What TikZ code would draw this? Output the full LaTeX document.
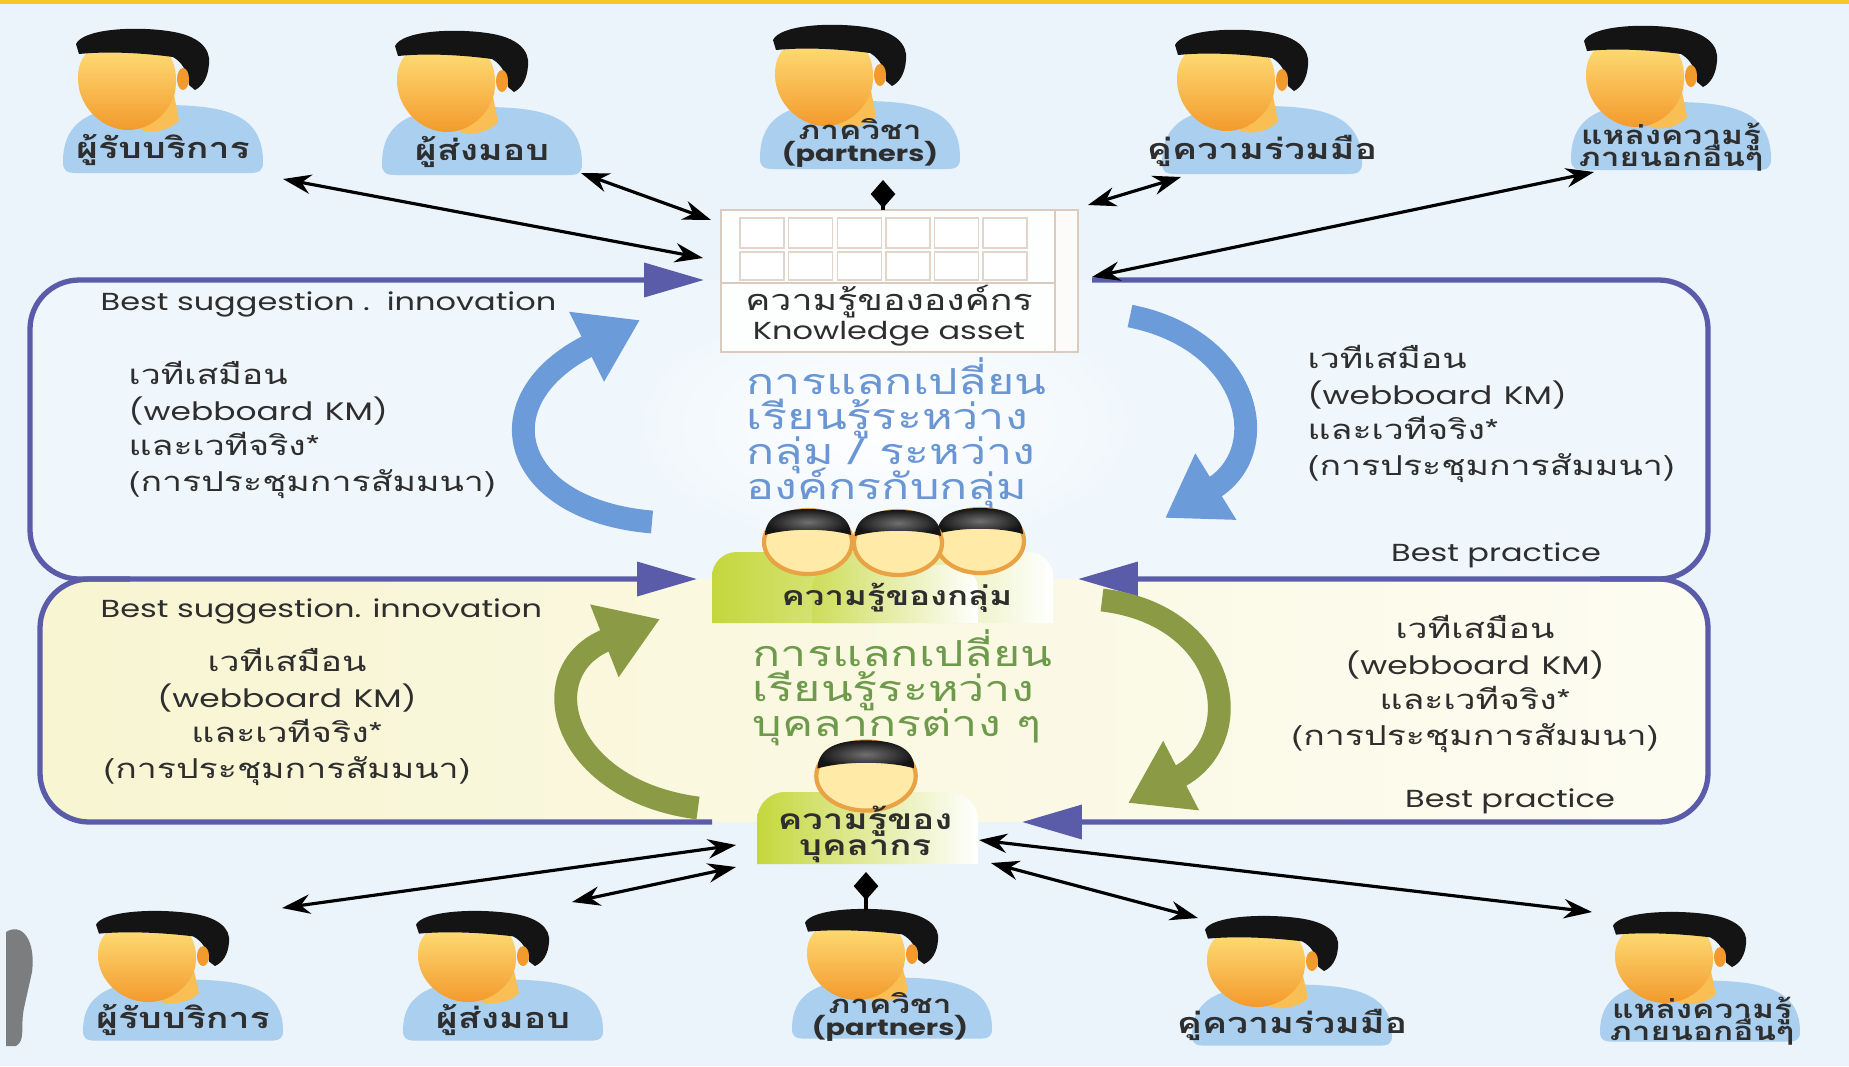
\documentclass[tikz,border=0pt]{standalone}
\usepackage{fontspec}
\setmainfont{Poppins}[FakeStretch=1.3]
\newfontfamily\thai[Script=Thai,FakeStretch=1.3]{Loma}
\usetikzlibrary{arrows.meta}

\definecolor{bgsky}{HTML}{EBF4FA}
\definecolor{panelsky}{HTML}{F0F7FC}
\definecolor{panelcream}{HTML}{F8F5D2}
\definecolor{frameblue}{HTML}{5A5CA9}
\definecolor{arcblue}{HTML}{6C9BD9}
\definecolor{txtblue}{HTML}{6A96D4}
\definecolor{arcgreen}{HTML}{8B9A45}
\definecolor{txtgreen}{HTML}{6E9A4C}
\definecolor{shirtblue}{HTML}{AACFEF}
\definecolor{hairblack}{HTML}{141414}
\definecolor{hairgloss}{HTML}{707070}
\definecolor{skinlight}{HTML}{FFE47E}
\definecolor{skindark}{HTML}{F39A2C}
\definecolor{facecream}{HTML}{FFEAA8}
\definecolor{faceline}{HTML}{E9A244}
\definecolor{ink}{HTML}{2E2E2E}
\definecolor{limegreen}{HTML}{C4D73C}
\definecolor{topgold}{HTML}{F5C826}
\definecolor{wallline}{HTML}{D9CBBE}

\newcommand\tightlines{\lineskiplimit=-20pt\relax}
\newcommand\thaibody{\thai\fontsize{7.8}{10.2}\selectfont}
\newcommand\latinbody{\rmfamily\fontsize{7}{10.2}\selectfont}
\newcommand\webboard{{\latinbody\fontsize{7.2}{10.2}\selectfont (webboard\hspace{0.45em}KM)}}
\newcommand\tagfont{\thai\bfseries\fontsize{8.2}{8}\selectfont\tightlines}
\newcommand\tagtwofont{\thai\bfseries\fontsize{7.3}{6.1}\selectfont\tightlines}
\newcommand\tagfontlatin{\rmfamily\bfseries\fontsize{6.3}{6.1}\selectfont}
\newcommand\indfont{\thai\bfseries\fontsize{8}{7.4}\selectfont\tightlines}
\newcommand\grpfont{\thai\bfseries\fontsize{7.6}{9}\selectfont}
\newcommand\kbfont{\thai\fontsize{8.2}{10}\selectfont}
\newcommand\bigthai{\thai\fontsize{10.2}{9.9}\selectfont\tightlines}

\tikzset{
  % person icon, origin at the centre of its caption
  pics/personicon/.style={code={
    \fill[shirtblue] (-100,12) .. controls (-100,-36) and (-62,-45) .. (0,-45)
       .. controls (62,-45) and (100,-36) .. (100,12)
       .. controls (100,21) and (96,23) .. (86,23) -- (-86,23)
       .. controls (-96,23) and (-100,21) .. (-100,12) -- cycle;
    \fill[skinlight!50!skindark] (-22,-50) -- (10,-60) -- (16,-30)
       .. controls (8,-20) and (-10,-16) .. (-22,-20) -- cycle;
    \shade[top color=skinlight,bottom color=skindark]
       (-30,-112) .. controls (-70,-112) and (-86,-95) .. (-85,-70)
       .. controls (-84,-42) and (-60,-20) .. (-35,-20)
       .. controls (-12,-20) and (7,-38) .. (12,-58)
       .. controls (16,-80) and (10,-112) .. (-30,-112) -- cycle;
    \fill[hairblack] (-84,-96) -- (-87,-106) .. controls (-80,-121) and (-30,-124) .. (5,-119)
       .. controls (35,-115) and (48,-102) .. (46,-86) .. controls (45,-73) and (40,-64) .. (32,-60)
       -- (26,-65) .. controls (25,-78) and (19,-88) .. (10,-93)
       .. controls (-20,-97) and (-55,-99) .. (-84,-96) -- cycle;
    \fill[skindark] (20,-71) ellipse[x radius=6,y radius=11];
  }},
  % cartoon head used in the group and individual figures
  pics/roundhead/.style={code={
    \draw[draw=faceline,line width=1.2pt,fill=facecream] (0,0) ellipse[x radius=44,y radius=32];
    \shade[inner color=hairgloss,outer color=hairblack]
       (-43,-7) .. controls (-42,-27) and (-24,-33) .. (0,-33)
       .. controls (24,-33) and (42,-27) .. (43,-7)
       .. controls (20,-14) and (-20,-14) .. (-43,-7) -- cycle;
  }},
}

\begin{document}
\begin{tikzpicture}[x=0.01cm,y=-0.01cm,
  frameline/.style={draw=frameblue,line width=1.5pt,rounded corners=14pt},
  bluetip/.style={-{Triangle[length=17pt,width=9.5pt]}},
  bluetips/.style={{Triangle[length=17pt,width=9.5pt]}-{Triangle[length=17pt,width=9.5pt]}},
  link/.style={draw=black,line width=0.9pt,{Stealth[length=8pt,width=5.5pt]}-{Stealth[length=8pt,width=5.5pt]}},
  agg/.style={draw=black,line width=0.9pt,{Diamond[length=8pt,width=7pt]}-},
  cycleblue/.style={draw=arcblue,line width=6.5pt,-{Triangle[length=17pt,width=21pt]}},
  cyclegreen/.style={draw=arcgreen,line width=6.5pt,-{Triangle[length=17pt,width=21pt]}},
  tag/.style={text=ink,font=\tagfont,align=center,inner sep=0pt},
  tagtwo/.style={text=ink,font=\tagtwofont,align=center,inner sep=0pt},
  note/.style={text=ink,font=\thaibody,inner sep=0pt},
  latin/.style={text=ink,font=\latinbody,inner sep=0pt},
]
\useasboundingbox (0,0) rectangle (1849,1066);
\fill[bgsky] (0,0) rectangle (1849,1066);
\fill[topgold] (0,0) rectangle (1849,4);

% partly visible grey object at the lower left edge
\fill[gray!75!black,opacity=0.8] (6,932) .. controls (22,922) and (36,940) .. (32,972)
  -- (24,1008) .. controls (20,1028) and (26,1040) .. (16,1046) -- (6,1046) -- cycle;

% panels
\fill[panelsky,rounded corners=14pt] (30,280) rectangle (1708,579);
\shade[left color=panelcream,right color=white!70!panelcream,rounded corners=14pt]
  (40,579) rectangle (1708,822);
\shade[inner color=white,outer color=panelsky] (885,425) ellipse[x radius=250,y radius=125];

% building: organisational knowledge
\fill[white,opacity=0.92] (721,210) rectangle (1055,352);
\fill[white!92!wallline] (1055,210) rectangle (1078,352);
\foreach \i in {0,...,5} {
  \draw[wallline!80,line width=0.4pt,fill=white] (740+\i*48.6,218) rectangle +(44,30);
  \draw[wallline!80,line width=0.4pt,fill=white] (740+\i*48.6,252) rectangle +(44,28);
}
\draw[wallline,line width=0.6pt] (721,210) rectangle (1078,352);
\draw[wallline,line width=0.5pt] (1055,210) -- (1055,352);
\draw[wallline,line width=0.5pt] (721,283) -- (1055,283);
\node[inner sep=0pt,minimum width=3.57cm,minimum height=1.42cm] (kb) at (899.5,281) {};
\node[text=ink,font=\kbfont,inner sep=0pt] (kbth) at (889,302) {ความรู้ขององค์กร};
\node[latin] (kben) at (889,334) {Knowledge asset};

% ports on the central nodes
\coordinate (kb-p1) at (703,258);
\coordinate (kb-p2) at (711,220);
\coordinate (kb-p3) at (883,210);
\coordinate (kb-p4) at (1088,205);
\coordinate (kb-p5) at (1092,277);
\coordinate (kb-w) at (704,280);
\coordinate (kb-e) at (1092,280);
\coordinate (grp-w) at (697,579);
\coordinate (grp-e) at (1078,579);
\coordinate (ind-w) at (712,822);
\coordinate (ind-e) at (1022,822);
\coordinate (ind-p1) at (736,845);
\coordinate (ind-p2) at (736,867);
\coordinate (ind-p3) at (866,872);
\coordinate (ind-p4) at (991,863);
\coordinate (ind-p5) at (979,840);

% panel frames with their arrows
\draw[frameline,bluetips] (kb-w) -- (30,280) -- (30,579) -- (grp-w);
\draw[frameline,bluetip] (kb-e) -- (1708,280) -- (1708,579) -- (grp-e);
\draw[frameline] (130,579) -- (40,579) -- (40,822) -- (ind-w);
\draw[frameline,bluetip] (1600,579) -- (1708,579) -- (1708,822) -- (ind-e);

% exchange cycles
\draw[cycleblue] (652,522) .. controls (510,510) and (480,400) .. (640,320);
\draw[cycleblue] (1130,316) .. controls (1250,340) and (1275,450) .. (1165,518);
\draw[cyclegreen] (698,808) .. controls (560,790) and (530,670) .. (660,619);
\draw[cyclegreen] (1102,600) .. controls (1230,615) and (1250,740) .. (1128,803);

% group knowledge figure
\shade[left color=limegreen,right color=limegreen!55!white]
  (712,623) [rounded corners=7pt] -- (712,552) -- (880,552) [sharp corners] -- (880,623) -- cycle;
\shade[left color=limegreen!45!white,right color=white]
  (925,623) [rounded corners=7pt] -- (925,552) -- (1053,552) [sharp corners] -- (1053,623) -- cycle;
\shade[left color=limegreen!85!white,right color=white]
  (812,623) [rounded corners=7pt] -- (812,565) -- (978,565) [sharp corners] -- (978,623) -- cycle;
\pic at (980,541) {roundhead};
\pic at (808,542) {roundhead};
\pic at (898,543) {roundhead};
\node[text=ink,font=\grpfont,inner sep=0pt] (grp) at (897,598) {ความรู้ของกลุ่ม};

% individual knowledge figure
\shade[left color=limegreen,right color=white]
  (757,864) [rounded corners=8pt] -- (757,792) -- (978,792) [sharp corners] -- (978,864) -- cycle;
\pic[xscale=1.13,yscale=1.08] at (866,776) {roundhead};
\node[text=ink,font=\indfont,align=center,inner sep=0pt] (ind) at (865,834) {ความรู้ของ\\บุคลากร};

% central captions
\node[text=txtblue,font=\bigthai,align=left,inner sep=0pt,anchor=west] (orgx) at (746,433)
  {การแลกเปลี่ยน\\เรียนรู้ระหว่าง\\กลุ่ม / ระหว่าง\\องค์กรกับกลุ่ม};
\node[text=txtgreen,font=\bigthai,align=left,inner sep=0pt,anchor=west] (grpx) at (752,688)
  {การแลกเปลี่ยน\\เรียนรู้ระหว่าง\\บุคลากรต่าง ๆ};

% panel notes
\node[latin,anchor=west] (bs1) at (100,304) {Best suggestion .~~innovation};
\node[note,align=left,anchor=west] (ul) at (128,430)
  {เวทีเสมือน\\\webboard\\และเวทีจริง*\\(การประชุมการสัมมนา)};
\node[note,align=left,anchor=west] (ur) at (1307,414)
  {เวทีเสมือน\\\webboard\\และเวทีจริง*\\(การประชุมการสัมมนา)};
\node[latin] (bp1) at (1496,555) {Best practice};
\node[latin,anchor=west] (bs2) at (100,611) {Best suggestion. innovation};
\node[note,align=center] (ll) at (287,717)
  {เวทีเสมือน\\\webboard\\และเวทีจริง*\\(การประชุมการสัมมนา)};
\node[note,align=center] (lr) at (1475,684)
  {เวทีเสมือน\\\webboard\\และเวทีจริง*\\(การประชุมการสัมมนา)};
\node[latin] (bp2) at (1510,801) {Best practice};

% stakeholders, top row
\pic at (163,150) {personicon};
\pic at (482,152) {personicon};
\pic at (860,146) {personicon};
\pic at (1262,151) {personicon};
\pic at (1671,147) {personicon};
\node[tag] (p1t) at (163,150) {ผู้รับบริการ};
\node[tag] (p2t) at (482,152) {ผู้ส่งมอบ};
\node[tagtwo] (p3t) at (860,143) {ภาควิชา\\{\tagfontlatin (partners)}};
\node[tag] (p4t) at (1262,151) {คู่ความร่วมมือ};
\node[tagtwo] (p5t) at (1671,147) {แหล่งความรู้\\ภายนอกอื่นๆ};

% stakeholders, bottom row
\pic[yscale=0.9] at (183,1020) {personicon};
\pic[yscale=0.9] at (503,1020) {personicon};
\pic[yscale=0.9] at (892,1018) {personicon};
\pic[yscale=0.9] at (1292,1025) {personicon};
\pic[yscale=0.9] at (1700,1021) {personicon};
\node[tag] (p1b) at (183,1020) {ผู้รับบริการ};
\node[tag] (p2b) at (503,1020) {ผู้ส่งมอบ};
\node[tagtwo] (p3b) at (890,1017) {ภาควิชา\\{\tagfontlatin (partners)}};
\node[tag] (p4b) at (1292,1025) {คู่ความร่วมมือ};
\node[tagtwo] (p5b) at (1702,1021) {แหล่งความรู้\\ภายนอกอื่นๆ};

% ports on the stakeholders
\coordinate (p1t-kb) at (283,179);
\coordinate (p2t-kb) at (581,173);
\coordinate (p3t-kb) at (883,180);
\coordinate (p4t-kb) at (1181,177);
\coordinate (p5t-kb) at (1594,172);
\coordinate (p1b-ind) at (282,908);
\coordinate (p2b-ind) at (572,902);
\coordinate (p3b-ind) at (866,910);
\coordinate (p4b-ind) at (1198,918);
\coordinate (p5b-ind) at (1592,912);

% connectors
\draw[link] (p1t-kb) -- (kb-p1);
\draw[link] (p2t-kb) -- (kb-p2);
\draw[agg] (p3t-kb) -- (kb-p3);
\draw[link] (p4t-kb) -- (kb-p4);
\draw[link] (p5t-kb) -- (kb-p5);
\draw[link] (ind-p1) -- (p1b-ind);
\draw[link] (ind-p2) -- (p2b-ind);
\draw[agg] (ind-p3) -- (p3b-ind);
\draw[link] (ind-p4) -- (p4b-ind);
\draw[link] (ind-p5) -- (p5b-ind);
\end{tikzpicture}
\end{document}
